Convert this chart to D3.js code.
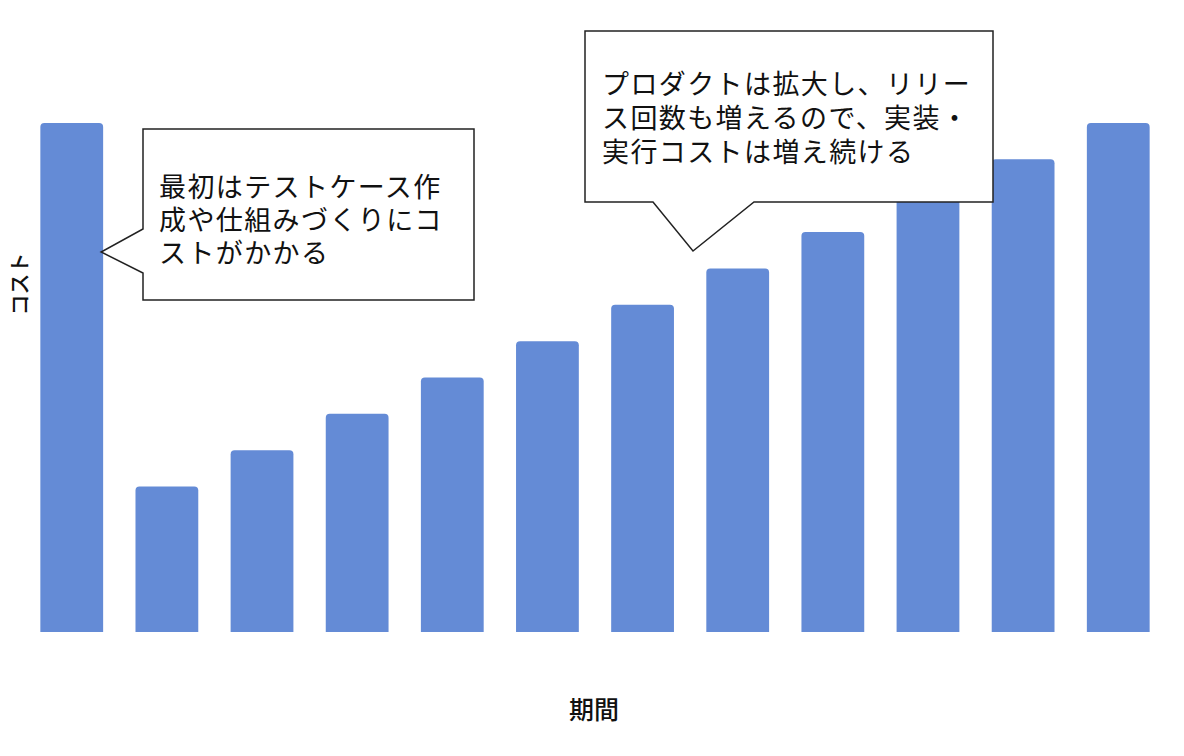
<!DOCTYPE html>
<html>
<head>
<meta charset="utf-8">
<script src="https://cdn.jsdelivr.net/npm/d3@7"></script>
<style>
  body { margin: 0; background: #fff; }
  text { font-family: "Noto Sans CJK JP", sans-serif; }
</style>
</head>
<body>
<div id="chart"></div>
<script>
// 期間ごとのコスト (相対値)
var periods = [1, 2, 3, 4, 5, 6, 7, 8, 9, 10, 11, 12];
var costs = [14, 4, 5, 6, 7, 8, 9, 10, 11, 12, 13, 14];

var note1Lines = ["最初はテストケース作", "成や仕組みづくりにコ", "ストがかかる"];
var note2Lines = ["プロダクトは拡大し、リリー", "ス回数も増えるので、実装・", "実行コストは増え続ける"];

function drawChart() {

    var width = 1184;
    var height = 756;
    var barColor = "#648bd6";

    var svg = d3.select("#chart").append("svg")
        .attr("width", width)
        .attr("height", height);

    var x = d3.scaleBand()
        .domain(periods)
        .range([8, 1182])
        .padding(0.34);

    var y = d3.scaleLinear()
        .domain([0, 14])
        .range([632, 123]);

    // bars, rounded only at the top
    var r = 4;
    svg.selectAll(".bar")
        .data(periods)
        .enter().append("path")
        .attr("class", "bar")
        .attr("fill", barColor)
        .attr("d", function(d, i) {
            var x0 = x(d), x1 = x(d) + x.bandwidth();
            var y0 = y(costs[i]), yb = y(0);
            return "M" + x0 + "," + yb +
                "V" + (y0 + r) +
                "Q" + x0 + "," + y0 + " " + (x0 + r) + "," + y0 +
                "H" + (x1 - r) +
                "Q" + x1 + "," + y0 + " " + x1 + "," + (y0 + r) +
                "V" + yb + "Z";
        });

    // axis titles
    svg.append("text")
        .attr("transform", "translate(18,284) rotate(-90)")
        .attr("text-anchor", "middle")
        .attr("dominant-baseline", "central")
        .attr("font-size", 21)
        .attr("font-weight", 500)
        .attr("fill", "#111")
        .text("コスト");

    svg.append("text")
        .attr("x", 594)
        .attr("y", 708)
        .attr("text-anchor", "middle")
        .attr("dominant-baseline", "central")
        .attr("font-size", 25)
        .attr("font-weight", 500)
        .attr("fill", "#111")
        .text("期間");

    // callout 1: points at the first bar
    var tip1x = x(periods[0]) + x.bandwidth() - 2;
    var tip1y = 252;
    svg.append("path")
        .attr("d", "M143,129 H474 V300 H143 V273 L" + tip1x + "," + tip1y + " L143,229 Z")
        .attr("fill", "#fff")
        .attr("stroke", "#222")
        .attr("stroke-width", 1.5);

    svg.append("g").selectAll("text")
        .data(note1Lines)
        .enter().append("text")
        .attr("x", 159)
        .attr("y", function(d, i) { return 185 + i * 33; })
        .attr("dominant-baseline", "central")
        .attr("font-size", 27)
        .attr("letter-spacing", 1.4)
        .attr("fill", "#111")
        .text(function(d) { return d; });

    // callout 2: points down toward the middle of the series
    var tip2x = 693, tip2y = 251;
    svg.append("path")
        .attr("d", "M585,31 H993 V202 H754 L" + tip2x + "," + tip2y + " L653,202 H585 Z")
        .attr("fill", "#fff")
        .attr("stroke", "#222")
        .attr("stroke-width", 1.5);

    svg.append("g").selectAll("text")
        .data(note2Lines)
        .enter().append("text")
        .attr("x", 602)
        .attr("y", function(d, i) { return 82 + i * 34; })
        .attr("dominant-baseline", "central")
        .attr("font-size", 27)
        .attr("letter-spacing", 1.4)
        .attr("fill", "#111")
        .text(function(d) { return d; });
}

drawChart();
</script>
</body>
</html>
